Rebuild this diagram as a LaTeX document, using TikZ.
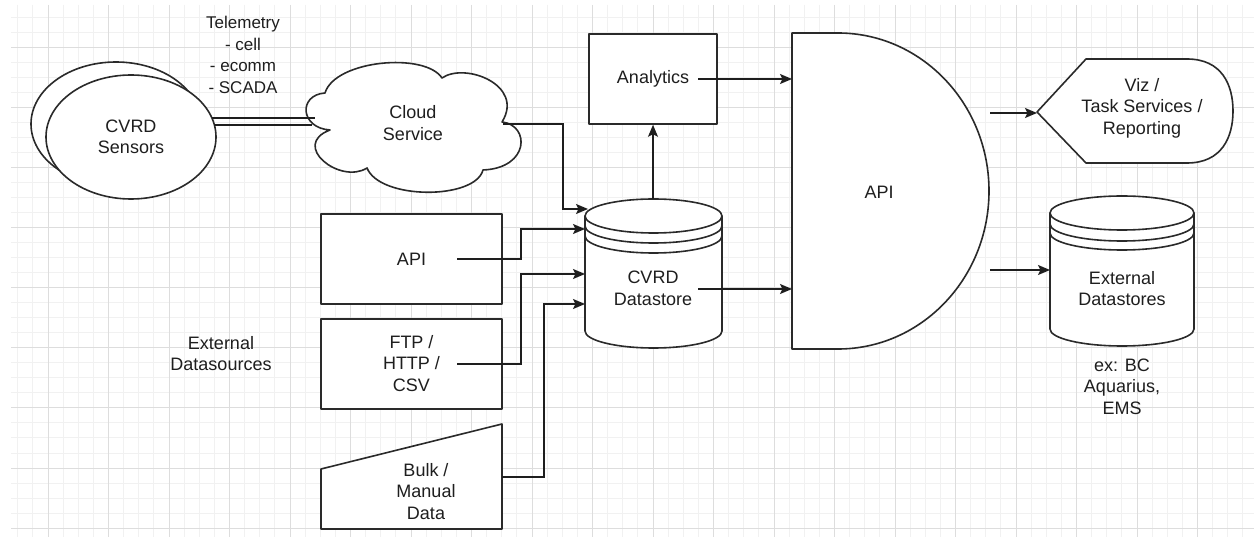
\documentclass[tikz,border=0pt]{standalone}
\usepackage{fontspec}
\setmainfont{Liberation Sans}
\usetikzlibrary{arrows.meta,calc,shapes.geometric}
\definecolor{gridminor}{HTML}{F1F1F1}
\definecolor{gridmajor}{HTML}{DDDDDD}
\definecolor{ink}{HTML}{1E1E1E}
\definecolor{edge}{HTML}{2A2A2A}
\begin{document}
\begin{tikzpicture}[x=1pt,y=-1pt,
  shapeline/.style={draw=edge, line width=1.6pt, fill=white, line join=round},
  conn/.style={draw=ink, line width=1.4pt, -{Stealth[length=12pt,width=10pt,inset=2.5pt]}},
  plain/.style={draw=ink, line width=1.4pt},
  lbl/.style={font=\fontsize{18}{21.5}\selectfont, align=center, text=ink, inner sep=0pt},
  small/.style={font=\fontsize{17}{21.5}\selectfont, align=center, text=ink, inner sep=0pt},
  boxnode/.style={shapeline, rectangle, inner sep=0pt}
]
\useasboundingbox (0,0) rectangle (1254,537);
\fill[white] (0,0) rectangle (1254,537);
% grid
\foreach \k in {-2,...,79} {
  \pgfmathsetmacro{\gx}{48+15.125*\k}
  \pgfmathtruncatemacro{\m}{mod(\k+8,4)}
  \ifnum\m=0\relax\else
    \draw[gridminor, line width=1pt] (\gx,5) -- (\gx,537);
  \fi
}
\foreach \k in {-2,...,32} {
  \pgfmathsetmacro{\gy}{48+15*\k}
  \pgfmathtruncatemacro{\m}{mod(\k+8,4)}
  \ifnum\m=0\relax\else
    \draw[gridminor, line width=1pt] (11,\gy) -- (1254,\gy);
  \fi
}
\foreach \k in {0,...,19} {
  \pgfmathsetmacro{\gx}{48+60.5*\k}
  \draw[gridmajor, line width=1pt] (\gx,5) -- (\gx,537);
}
\foreach \k in {0,...,8} {
  \pgfmathsetmacro{\gy}{48+60*\k}
  \draw[gridmajor, line width=1pt] (11,\gy) -- (1254,\gy);
}

% sensors
\draw[shapeline] (116,124) ellipse[x radius=85, y radius=62];
\node[shapeline, ellipse, minimum width=170pt, minimum height=124pt, inner sep=0pt] (sensors) at (131,137) {};
\node[lbl] (sensorsT) at (131,137) {CVRD\\Sensors};

% telemetry label
\node[small] (telem) at (243,55) {Telemetry\\- cell\\- ecomm\\- SCADA};

% cloud
\draw[shapeline] (325,93) .. controls (335,60) and (425,52) .. (442,78)
  .. controls (465,62) and (525,85) .. (502,122)
  .. controls (530,125) and (530,168) .. (483,170)
  .. controls (475,200) and (380,200) .. (367,168)
  .. controls (340,185) and (290,145) .. (330,130)
  .. controls (300,128) and (298,95) .. cycle;
\node[lbl] (cloudT) at (413,123) {Cloud\\Service};
\coordinate (cloudL1) at (315,118);
\coordinate (cloudL2) at (312,125);
\coordinate (sensR1) at (212,118);
\coordinate (sensR2) at (214,125);
\draw[plain] (sensR1) -- (cloudL1);
\draw[plain] (sensR2) -- (cloudL2);

% analytics
\node[boxnode, minimum width=128pt, minimum height=90pt] (analytics) at (653,79) {};
\node[lbl] (analyticsT) at (653,79) {Analytics};

% CVRD datastore cylinder
\path[shapeline] (585,216) -- (585,331) arc[start angle=180, end angle=0, x radius=68.5, y radius=17] -- (722,216) -- cycle;
\draw[shapeline] (653.5,216) ellipse[x radius=68.5, y radius=17];
\draw[edge, line width=1.6pt] (585,226) arc[start angle=180, end angle=0, x radius=68.5, y radius=17];
\draw[edge, line width=1.6pt] (585,236) arc[start angle=180, end angle=0, x radius=68.5, y radius=17];
\node[lbl] (dsT) at (653,288.5) {CVRD\\Datastore};
\coordinate (dsTop) at (653,199);

% source boxes
\node[boxnode, minimum width=181pt, minimum height=90pt] (apibox) at (411.5,259) {};
\node[lbl] (apiboxT) at (411.5,259) {API};
\node[boxnode, minimum width=181pt, minimum height=90pt] (ftpbox) at (411.5,364) {};
\node[lbl] (ftpboxT) at (411.5,363.5) {FTP /\\HTTP /\\CSV};
\draw[shapeline] (321,469) -- (502,424) -- (502,529) -- (321,529) -- cycle;
\node[lbl] (bulkT) at (426,491.5) {Bulk /\\Manual\\Data};
\node[lbl] (extsrc) at (221,353.5) {External\\Datasources};

% API big D shape
\draw[shapeline] (792,33) -- (838,33) .. controls (921.4,33) and (989,103.7) .. (989,191)
  .. controls (989,278.3) and (921.4,349) .. (838,349) -- (792,349) -- cycle;
\node[lbl] (apiT) at (879,192) {API};

% viz display shape
\draw[shapeline] (1037,112) -- (1086,59) -- (1187,59) .. controls (1222,59) and (1233,85) .. (1233,111)
  .. controls (1233,137) and (1222,163) .. (1187,163) -- (1086,163) -- cycle;
\node[lbl] (vizT) at (1142,108) {Viz /\\Task Services /\\Reporting};

% external datastores cylinder
\path[shapeline] (1050,213) -- (1050,329) arc[start angle=180, end angle=0, x radius=72, y radius=17] -- (1194,213) -- cycle;
\draw[shapeline] (1122,213) ellipse[x radius=72, y radius=17];
\draw[edge, line width=1.6pt] (1050,224) arc[start angle=180, end angle=0, x radius=72, y radius=17];
\draw[edge, line width=1.6pt] (1050,233) arc[start angle=180, end angle=0, x radius=72, y radius=17];
\node[lbl] (extT) at (1122,288.5) {External\\Datastores};
\node[lbl] (exT) at (1122,386.5) {ex: BC\\Aquarius,\\EMS};

% connector anchor coordinates
\coordinate (cloudR) at (503,124);
\coordinate (jc) at (563,209);
\coordinate (dsIn1) at (588,209);
\coordinate (apiS) at (457,259);
\coordinate (ja) at (521,229);
\coordinate (dsIn2) at (585,229);
\coordinate (ftpS) at (457,364);
\coordinate (jf) at (521,274);
\coordinate (dsIn3) at (585,274);
\coordinate (bulkS) at (502,477);
\coordinate (jb) at (544,304);
\coordinate (dsIn4) at (585,304);
\coordinate (dsS) at (698,289);
\coordinate (apiIn1) at (792,289);
\coordinate (anS) at (698,79);
\coordinate (apiIn2) at (792,79);
\coordinate (apiOut1) at (990,113);
\coordinate (vizIn) at (1037,113);
\coordinate (apiOut2) at (990,270);
\coordinate (extIn) at (1050,270);

\draw[conn] (cloudR) -| (jc) -- (dsIn1);
\draw[conn] (apiS) -| (ja) -- (dsIn2);
\draw[conn] (ftpS) -| (jf) -- (dsIn3);
\draw[conn] (bulkS) -| (jb) -- (dsIn4);
\draw[conn] (dsTop) -- (analytics.south);
\draw[conn] (anS) -- (apiIn2);
\draw[conn] (dsS) -- (apiIn1);
\draw[conn] (apiOut1) -- (vizIn);
\draw[conn] (apiOut2) -- (extIn);
\end{tikzpicture}
\end{document}
